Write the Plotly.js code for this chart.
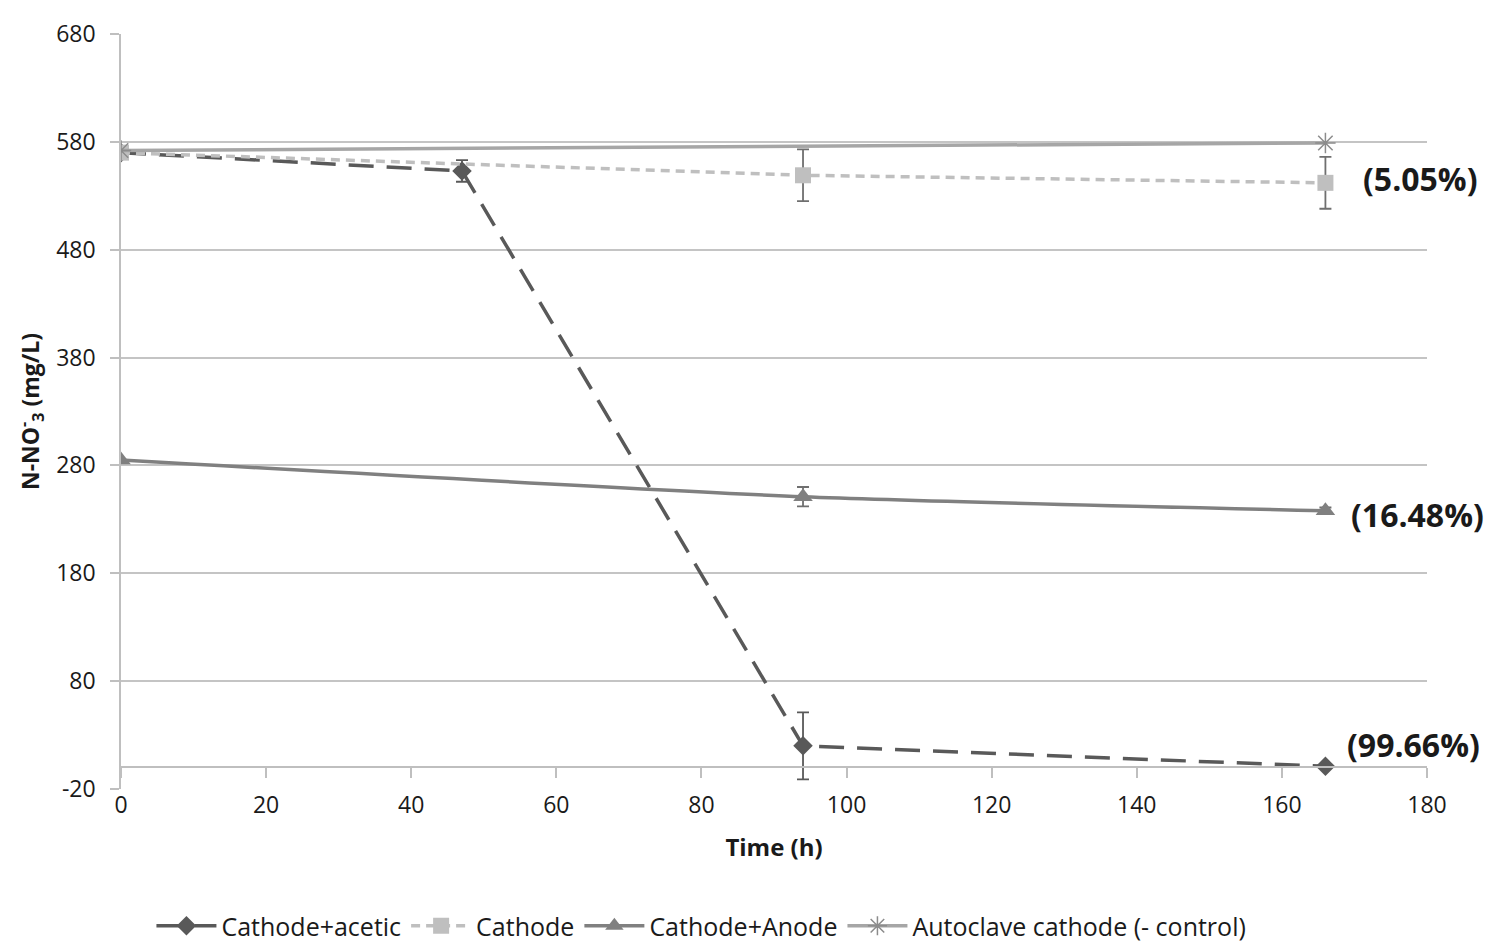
<!DOCTYPE html>
<html>
<head>
<meta charset="utf-8">
<script src="https://cdn.plot.ly/plotly-3.0.1.min.js"></script>
<style>html,body{margin:0;padding:0;background:#fff;}#chart{width:1502px;height:951px;}</style>
</head>
<body>
<div id="chart"></div>
<script>
// Data
const acetic_t = [0, 47, 94, 166];
const acetic_v = [570, 553, 20, 1];
const acetic_err = [0, 10, 31, 0];

const cathode_t = [0, 94, 166];
const cathode_v = [570, 549, 542];
const cathode_err = [0, 24, 24];

const anode_t = [0, 94, 166];
const anode_v = [285, 251, 238];
const anode_err = [0, 9, 3];

const control_t = [0, 166];
const control_v = [572, 579];

const seriesNames = ["Cathode+acetic", "Cathode", "Cathode+Anode", "Autoclave cathode (- control)"];
const removalLabels = ["(5.05%)", "(16.48%)", "(99.66%)"];
const removalAt = [[166, 542], [166, 238], [166, 1]];

const xTicks = [0, 20, 40, 60, 80, 100, 120, 140, 160, 180];
const yTicks = [-20, 80, 180, 280, 380, 480, 580, 680];

const font = "Open Sans, Liberation Sans, sans-serif";

const traces = [
  {
    x: acetic_t, y: acetic_v, name: seriesNames[0], mode: "lines+markers",
    line: {color: "#595959", width: 3.5, dash: "25px,13px"},
    marker: {symbol: "diamond", size: 15, color: "#595959"},
    error_y: {type: "data", array: acetic_err, visible: true, color: "#595959", thickness: 1.8, width: 6}
  },
  {
    x: cathode_t, y: cathode_v, name: seriesNames[1], mode: "lines+markers",
    line: {color: "#bfbfbf", width: 3.5, dash: "9px,6px"},
    marker: {symbol: "square", size: 16, color: "#bfbfbf"},
    error_y: {type: "data", array: cathode_err, visible: true, color: "#6f6f6f", thickness: 1.8, width: 6}
  },
  {
    x: anode_t, y: anode_v, name: seriesNames[2], mode: "lines+markers",
    line: {color: "#808080", width: 3.5, shape: "spline", smoothing: 0.6},
    marker: {symbol: "triangle-up", size: 17, color: "#808080"},
    error_y: {type: "data", array: anode_err, visible: true, color: "#6f6f6f", thickness: 1.8, width: 6}
  },
  {
    x: control_t, y: control_v, name: seriesNames[3], mode: "lines+markers",
    line: {color: "#a6a6a6", width: 3.5},
    marker: {symbol: "asterisk-open", size: 17, color: "#8c8c8c", line: {color: "#8c8c8c", width: 1.5}}
  }
];

const annotations = removalLabels.map((t, i) => ({
  x: removalAt[i][0], y: removalAt[i][1], xref: "x", yref: "y",
  text: "<b>" + t + "</b>", showarrow: false, xanchor: "left",
  xshift: [36, 24, 20][i], yshift: [4, -4, 22][i],
  font: {family: font, size: 32, color: "#1a1a1a"}
}));

const layout = {
  width: 1502, height: 951,
  margin: {l: 121, r: 75, t: 34, b: 162},
  paper_bgcolor: "#fff", plot_bgcolor: "#fff",
  showlegend: true,
  legend: {
    orientation: "h", xref: "container", yref: "container",
    x: 0.467, xanchor: "center", y: 1 - 926 / 951, yanchor: "middle",
    font: {family: font, size: 25, color: "#1a1a1a"}, tracegroupgap: 0, itemwidth: 60
  },
  xaxis: {
    automargin: false,
    range: [0, 180], tickvals: xTicks, ticktext: xTicks.map(String),
    showgrid: false, zeroline: false, showline: false, ticks: "",
    tickfont: {family: font, size: 23, color: "#1a1a1a"},
    title: {text: "<b>Time (h)</b>", font: {family: font, size: 24, color: "#1a1a1a"}, standoff: 20}
  },
  xaxis2: {
    automargin: false,
    overlaying: "x", anchor: "free", position: 20 / 700, side: "bottom",
    range: [0, 180], tickvals: xTicks, showticklabels: false,
    ticks: "outside", ticklen: 10, tickcolor: "#bfbfbf", tickwidth: 1.5,
    showline: true, linecolor: "#bfbfbf", linewidth: 1.5, showgrid: false, zeroline: false
  },
  yaxis: {
    automargin: false,
    range: [-20, 680], tickvals: yTicks, ticktext: yTicks.map(String),
    showgrid: true, gridcolor: "#c4c4c4", gridwidth: 1.5, zeroline: false,
    showline: true, linecolor: "#bfbfbf", linewidth: 1.5,
    ticks: "outside", ticklen: 9, tickcolor: "#bfbfbf", tickwidth: 1.5,
    ticklabelstandoff: 10,
    tickfont: {family: font, size: 23, color: "#1a1a1a"},
    title: {text: "<b>N-NO<sup>-</sup><sub>3</sub> (mg/L)</b>", font: {family: font, size: 23, color: "#1a1a1a"}, standoff: 10}
  },
  annotations: annotations
};

// empty trace so the zero-crossing axis (xaxis2) is rendered
traces.push({x: [0], y: [null], xaxis: "x2", yaxis: "y", showlegend: false, hoverinfo: "skip", mode: "markers"});

Plotly.newPlot("chart", traces, layout, {displayModeBar: false});
</script>
</body>
</html>
